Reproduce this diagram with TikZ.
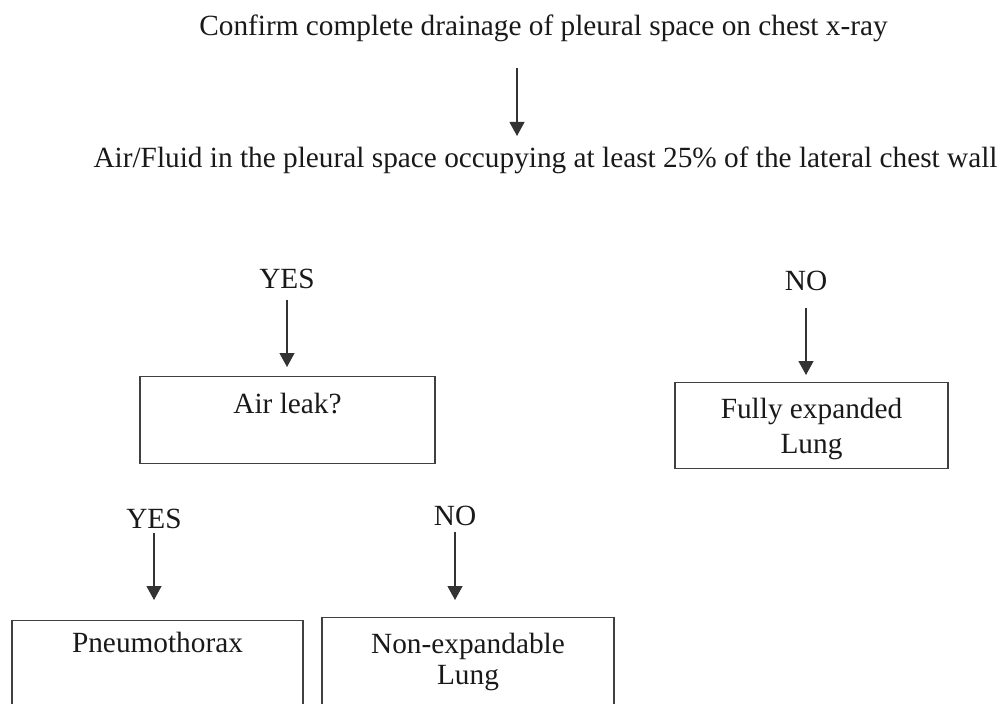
\documentclass[tikz,border=0pt]{standalone}
\usepackage{fontspec}
\setmainfont{Liberation Serif}
\usetikzlibrary{arrows.meta}

\begin{document}
\begin{tikzpicture}[
  x=0.5pt, y=-0.5pt,
  every node/.style={font=\fontsize{14.65}{17.5}\selectfont, text=black!90, inner sep=0pt},
  word/.style={anchor=base},
  flowbox/.style={draw=black!75, line width=0.6pt, align=center, anchor=north},
  arr/.style={draw=black!80, line width=0.6pt, -{Triangle[length=7pt,width=7.5pt]}}
]
\clip (0,0) rectangle (1001,703);

% Question
\node[word] (confirm) at (543.5,35) {Confirm complete drainage of pleural space on chest x-ray};
\node[word] (fluid) at (545.5,167) {Air/Fluid in the pleural space occupying at least 25\% of the lateral chest wall};
\draw[arr, shorten <=13pt, shorten >=5pt] ([xshift=-13.25pt]confirm.south) -- ([xshift=-13.25pt]confirm.south |- fluid.north);

% YES branch
\node[word] (yesA) at (287,288) {YES};
\node[flowbox, minimum width=147.5pt, text height=18.5pt, text depth=25pt] (leak) at (287.5,376) {Air leak?};
\draw[arr, shorten <=5.5pt, shorten >=4.5pt] (yesA.south) -- (yesA.south |- leak.north);

% NO branch
\node[word] (noA) at (806,290) {NO};
\node[flowbox, minimum width=136.5pt, text height=35.5pt, text depth=7.5pt] (full) at (811.5,382) {Fully expanded\\Lung};
\draw[arr, shorten <=8.5pt, shorten >=3.5pt] (noA.south) -- (noA.south |- full.north);

% Air leak answers
\node[word] (yesB) at (154,528) {YES};
\node[flowbox, minimum width=145.5pt, text height=16pt, text depth=50pt] (pneumo) at (157.5,620) {Pneumothorax};
\draw[arr, shorten <=2pt, shorten >=10pt] (yesB.south) -- (yesB.south |- pneumo.north);

\node[word] (noB) at (455,525) {NO};
\node[flowbox, minimum width=146pt, text height=33.5pt, text depth=50pt] (nonexp) at (468,617) {Non-expandable\\[-2pt]Lung};
\draw[arr, shorten <=3pt, shorten >=8.5pt] (noB.south) -- (noB.south |- nonexp.north);

\end{tikzpicture}
\end{document}
